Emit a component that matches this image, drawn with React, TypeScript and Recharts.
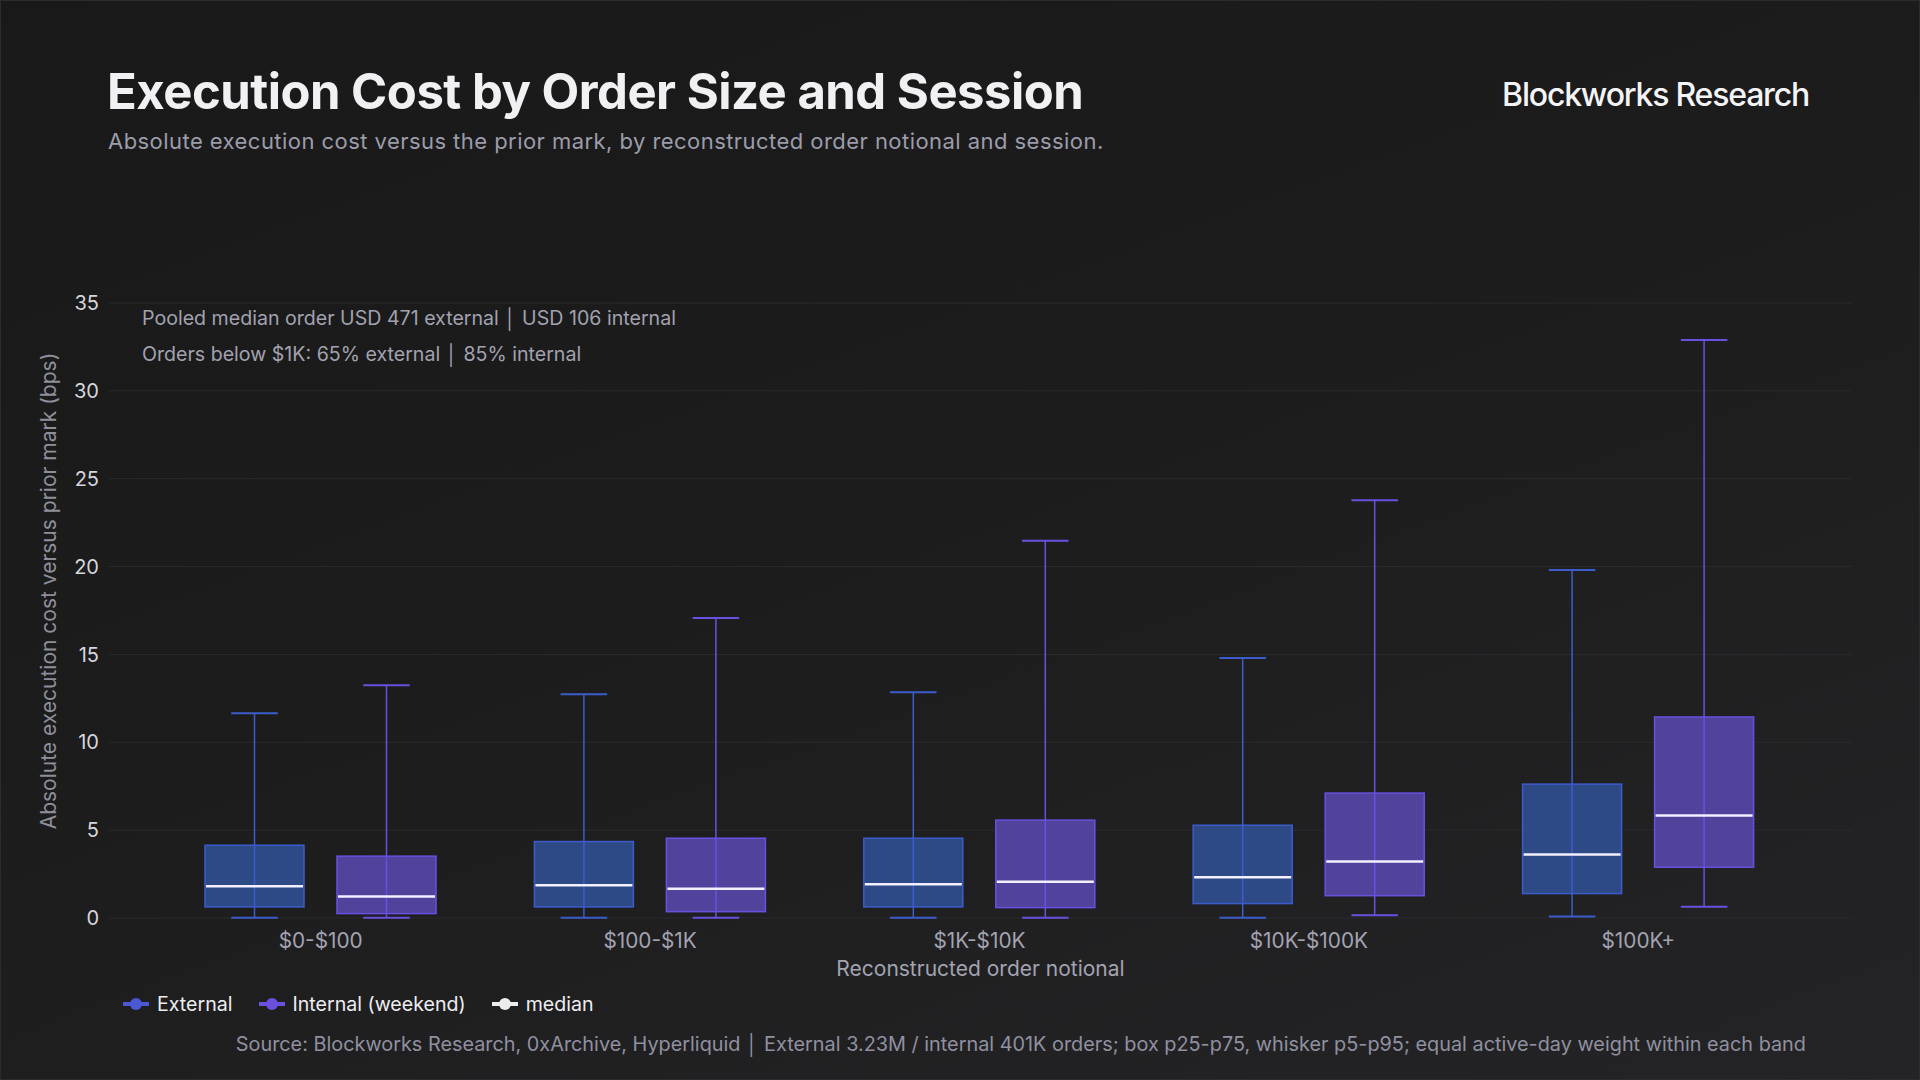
import React from 'react';
import { ComposedChart, Bar, XAxis, YAxis, CartesianGrid } from 'recharts';

const bands = ['$0-$100', '$100-$1K', '$1K-$10K', '$10K-$100K', '$100K+'];

// External session, bps: p5 / p25 / median / p75 / p95
const extP5 = [0.02, 0.02, 0.02, 0.02, 0.09];
const extP25 = [0.63, 0.63, 0.63, 0.82, 1.39];
const extMed = [1.8, 1.86, 1.92, 2.32, 3.61];
const extP75 = [4.14, 4.35, 4.54, 5.28, 7.62];
const extP95 = [11.65, 12.74, 12.85, 14.79, 19.81];

// Internal (weekend) session, bps
const intP5 = [0.02, 0.02, 0.02, 0.15, 0.64];
const intP25 = [0.25, 0.36, 0.59, 1.27, 2.89];
const intMed = [1.23, 1.67, 2.07, 3.21, 5.84];
const intP75 = [3.52, 4.54, 5.57, 7.11, 11.44];
const intP95 = [13.25, 17.07, 21.47, 23.77, 32.9];

const yTicks = [0, 5, 10, 15, 20, 25, 30, 35];

const notes = [
  'Pooled median order USD 471 external │ USD 106 internal',
  'Orders below $1K: 65% external │ 85% internal',
];

const FONT = 'Inter, "Noto Sans", sans-serif';

const EXT = { stroke: '#3d5ccc', fill: '#2d4a86', legend: '#4b58d4' };
const INT = { stroke: '#6a50e0', fill: '#51429b', legend: '#6c50de' };

const rows = bands.map((band, i) => ({
  band,
  ext: { p5: extP5[i], p25: extP25[i], med: extMed[i], p75: extP75[i], p95: extP95[i] },
  int: { p5: intP5[i], p25: intP25[i], med: intMed[i], p75: intP75[i], p95: intP95[i] },
}));

function boxShape(key: 'ext' | 'int', col: { stroke: string; fill: string }) {
  return (props: any) => {
    const { x, y, width, height, payload } = props;
    const s = payload[key];
    // bar spans p5..p95, map other stats onto it
    const py = (v: number) => y + ((s.p95 - v) / (s.p95 - s.p5)) * height;
    const cx = x + width / 2;
    const cap = width * 0.47;
    return (
      <g>
        <rect
          x={x}
          y={py(s.p75)}
          width={width}
          height={py(s.p25) - py(s.p75)}
          fill={col.fill}
          stroke={col.stroke}
          strokeWidth={1.5}
        />
        <line x1={cx} x2={cx} y1={py(s.p95)} y2={py(s.p5)} stroke={col.stroke} strokeWidth={1.5} />
        <line x1={cx - cap / 2} x2={cx + cap / 2} y1={py(s.p95)} y2={py(s.p95)} stroke={col.stroke} strokeWidth={2} />
        <line x1={cx - cap / 2} x2={cx + cap / 2} y1={py(s.p5)} y2={py(s.p5)} stroke={col.stroke} strokeWidth={2} />
        <line x1={x + 1} x2={x + width - 1} y1={py(s.med)} y2={py(s.med)} stroke="#f3efff" strokeWidth={2.5} />
      </g>
    );
  };
}

function LegendIcon({ color }: { color: string }) {
  return (
    <svg width={26} height={14} style={{ display: 'block' }}>
      <line x1={0} x2={26} y1={7} y2={7} stroke={color} strokeWidth={4} />
      <circle cx={13} cy={7} r={6} fill={color} />
    </svg>
  );
}

const legendItems = [
  { label: 'External', color: EXT.legend },
  { label: 'Internal (weekend)', color: INT.legend },
  { label: 'median', color: '#ececec' },
];

export default function App() {
  return (
    <div
      style={{
        position: 'fixed',
        left: 0,
        top: 0,
        width: 1920,
        height: 1080,
        boxSizing: 'border-box',
        border: '1px solid #2c2c2e',
        background: 'linear-gradient(160deg, #19191a 0%, #1c1c1d 45%, #242426 100%)',
        fontFamily: FONT,
        overflow: 'hidden',
      }}
    >
      <div style={{ position: 'absolute', left: 106, top: 66, fontSize: 49, lineHeight: '49px', fontWeight: 700, color: '#f1f1f4', letterSpacing: -0.5 }}>
        Execution Cost by Order Size and Session
      </div>
      <div style={{ position: 'absolute', left: 107, top: 129, fontSize: 22, lineHeight: '22px', color: '#9c9cab', letterSpacing: 0.45, whiteSpace: 'nowrap' }}>
        Absolute execution cost versus the prior mark, by reconstructed order notional and session.
      </div>
      <div style={{ position: 'absolute', right: 110, top: 78, fontSize: 32, lineHeight: '32px', fontWeight: 500, color: '#f4f4f6', letterSpacing: -1.2 }}>
        Blockworks Research
      </div>

      <div style={{ position: 'absolute', left: 0, top: 0 }}>
        <ComposedChart
          width={1920}
          height={1080}
          data={rows}
          margin={{ top: 302, right: 69, bottom: 101, left: 48 }}
          barGap={33}
        >
          <CartesianGrid vertical={false} stroke="#2b2b2d" strokeWidth={1} />
          <XAxis
            dataKey="band"
            padding={{ left: 47, right: 49 }}
            axisLine={false}
            tickLine={false}
            tickSize={6}
            tickMargin={9}
            height={62}
            tick={{ fill: '#a3a3b1', fontSize: 20.8, fontFamily: FONT }}
            label={{ value: 'Reconstructed order notional', position: 'insideBottom', offset: 4, fill: '#a3a3b1', fontSize: 21, fontFamily: FONT }}
          />
          <YAxis
            domain={[0, 35]}
            ticks={yTicks}
            width={60}
            axisLine={false}
            tickLine={false}
            tickSize={6}
            tickMargin={4}
            tick={{ fill: '#d6d6dc', fontSize: 20, fontFamily: FONT }}
          />
          <Bar
            dataKey={(d: any) => [d.ext.p5, d.ext.p95]}
            barSize={99}
            shape={boxShape('ext', EXT)}
            isAnimationActive={false}
          />
          <Bar
            dataKey={(d: any) => [d.int.p5, d.int.p95]}
            barSize={99}
            shape={boxShape('int', INT)}
            isAnimationActive={false}
          />
        </ComposedChart>
      </div>

      <svg width={40} height={640} style={{ position: 'absolute', left: 27, top: 270 }}>
        <text
          x={20}
          y={320}
          transform="rotate(-90 20 320)"
          textAnchor="middle"
          dominantBaseline="central"
          fill="#8f8f9b"
          fontSize={21}
          fontFamily={FONT}
        >
          Absolute execution cost versus prior mark (bps)
        </text>
      </svg>

      {notes.map((n, i) => (
        <div key={i} style={{ position: 'absolute', left: 141, top: 307 + i * 36, fontSize: 19.6, lineHeight: '20px', color: '#a2a2af', whiteSpace: 'nowrap' }}>
          {n}
        </div>
      ))}

      <div style={{ position: 'absolute', left: 122, top: 993, display: 'flex', alignItems: 'center', fontSize: 19.6, lineHeight: '20px', color: '#ededf0' }}>
        {legendItems.map((it) => (
          <div key={it.label} style={{ display: 'flex', alignItems: 'center', marginRight: 26 }}>
            <LegendIcon color={it.color} />
            <span style={{ marginLeft: 8 }}>{it.label}</span>
          </div>
        ))}
      </div>

      <div style={{ position: 'absolute', right: 113, top: 1033, fontSize: 19.85, lineHeight: '20px', color: '#9090a0', whiteSpace: 'nowrap' }}>
        Source: Blockworks Research, 0xArchive, Hyperliquid{'  │  '}External 3.23M / internal 401K orders; box p25-p75, whisker p5-p95; equal active-day weight within each band
      </div>
    </div>
  );
}
